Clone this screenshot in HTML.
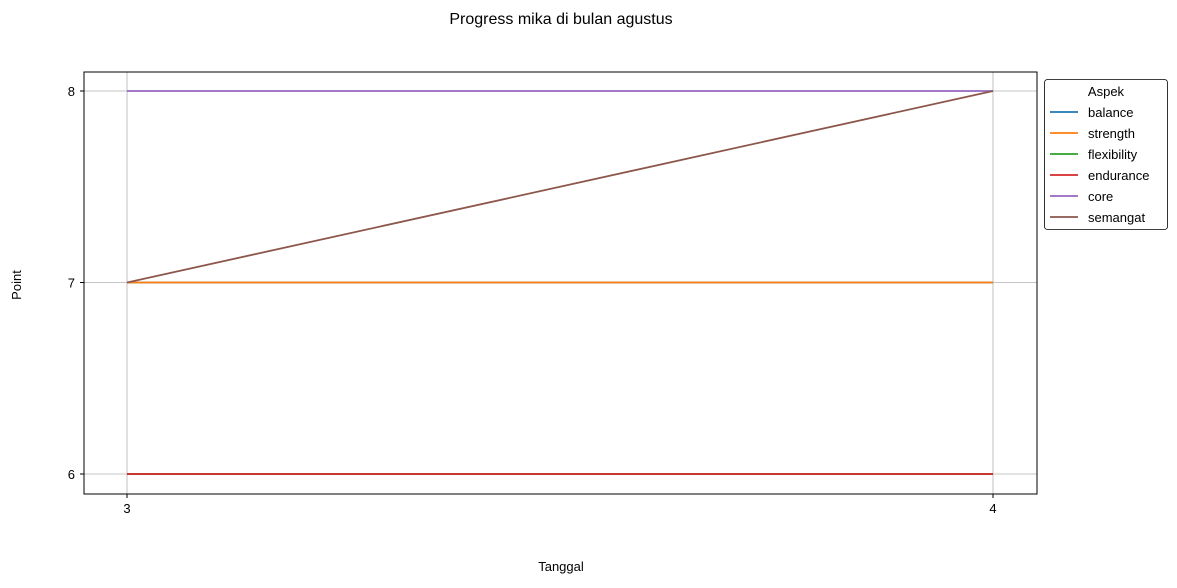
<!DOCTYPE html>
<html><head><meta charset="utf-8"><style>
body{margin:0;background:#fff;font-family:"Liberation Sans","DejaVu Sans",sans-serif}
</style></head><body>
<svg id="chart" width="1177" height="583" xmlns="http://www.w3.org/2000/svg">
<text x="561" y="24" text-anchor="middle" font-size="16">Progress mika di bulan agustus</text>
<text x="561" y="571" text-anchor="middle" font-size="13">Tanggal</text>
<text x="21" y="285" text-anchor="middle" font-size="13" transform="rotate(-90 21 285)">Point</text>
<g id="grid"></g>
<g id="lines"></g>
<rect x="84" y="72" width="953" height="422" fill="none" stroke="#000" stroke-width="1"/>
<g id="ticks"></g>
<g id="legend"></g>
</svg>
<script>
const xValues=[3,4];
const seriesNames=["balance","strength","flexibility","endurance","core","semangat"];
const seriesColors=["#1f77b4","#ff7f0e","#2ca02c","#d62728","#9467bd","#8c564b"];
const balance=[7,7];
const strength=[7,7];
const flexibility=[6,6];
const endurance=[6,6];
const core=[8,8];
const semangat=[7,8];
const xTicks=[3,4];
const yTicks=[6,7,8];
const seriesData=[balance,strength,flexibility,endurance,core,semangat];
const NS="http://www.w3.org/2000/svg";
const xs=v=>127+(v-3)*(993-127);
const ys=v=>474-(v-6)*(474-91)/2;
function el(t,a,p){const e=document.createElementNS(NS,t);for(const k in a)e.setAttribute(k,a[k]);p.appendChild(e);return e;}
const grid=document.getElementById('grid'),ticks=document.getElementById('ticks'),lines=document.getElementById('lines'),leg=document.getElementById('legend');
xTicks.forEach(t=>{
 const g=el('line',{x1:xs(t),x2:xs(t),y1:72,y2:494,stroke:'#b0b0b0','stroke-width':0.8},grid);
 
 
 el('line',{x1:xs(t),x2:xs(t),y1:494,y2:498,stroke:'#000'},ticks);
 const tx=el('text',{x:xs(t),y:513,'text-anchor':'middle','font-size':13},ticks);tx.textContent=t;
 
 
});
yTicks.forEach(t=>{
 const g=el('line',{x1:84,x2:1037,y1:ys(t),y2:ys(t),stroke:'#b0b0b0','stroke-width':0.8},grid);
 
 
 el('line',{x1:80,x2:84,y1:ys(t),y2:ys(t),stroke:'#000'},ticks);
 const tx=el('text',{x:75,y:ys(t)+5,'text-anchor':'end','font-size':13},ticks);tx.textContent=t;
 
 
});
seriesData.forEach((d,i)=>{
 const p=el('polyline',{points:d.map((v,j)=>xs(xValues[j])+','+ys(v)).join(' '),fill:'none',stroke:seriesColors[i],'stroke-width':1.8},lines);
 
 
});
const box=el('rect',{x:1044.5,y:79.5,width:123,height:150,rx:3,fill:'#fff',stroke:'#000','stroke-width':0.8},leg);


const lt=el('text',{x:1106,y:96,'text-anchor':'middle','font-size':13},leg);lt.textContent='Aspek';


seriesNames.forEach((n,i)=>{
 const y=112+i*21;
 const g=el('g',{},leg);
 
 
 el('line',{x1:1050,x2:1078,y1:y,y2:y,stroke:seriesColors[i],'stroke-width':1.8},g);
 const t=el('text',{x:1088,y:y+5,'font-size':13},g);t.textContent=n;
});
</script>
</body></html>
